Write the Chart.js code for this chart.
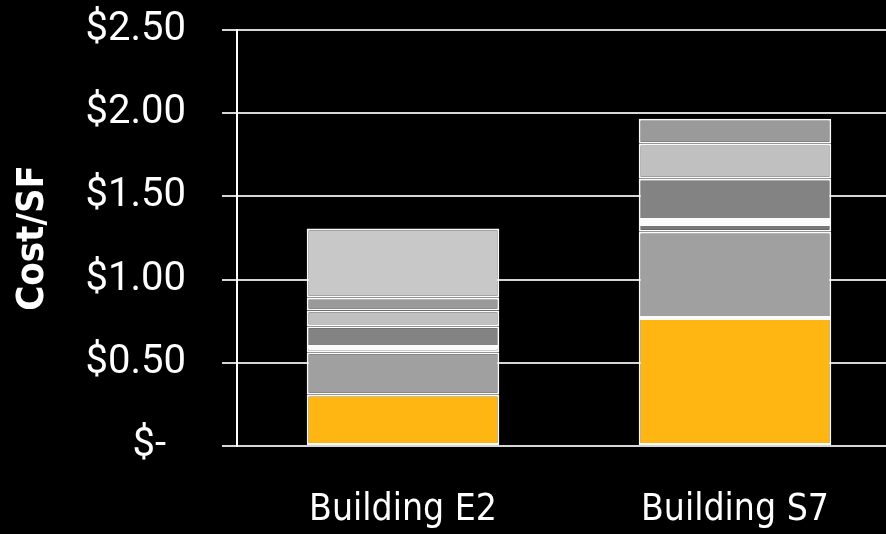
<!DOCTYPE html>
<html>
<head>
<meta charset="utf-8">
<script src="https://cdn.jsdelivr.net/npm/chart.js@4.4.1/dist/chart.umd.min.js"></script>
<style>
  html, body { margin: 0; padding: 0; background: #000; overflow: hidden; }
  #wrap { width: 901px; height: 534px; }
</style>
</head>
<body>
<div id="wrap"><canvas id="costChart"></canvas></div>
<script>
const buildings = ['Building E2', 'Building S7'];
const yTickLabels = ['$-  ', '$0.50', '$1.00', '$1.50', '$2.00', '$2.50'];

// cost components per square foot, bottom to top (null = no such part)
const part1 = [0.308, 0.769];
const part2 = [0.255, 0.519];
const part3 = [null, 0.046];
const part4 = [0.032, 0.024];
const part5 = [0.124, 0.248];
const part6 = [0.096, 0.210];
const part7 = [0.076, 0.150];
const part8 = [0.416, null];

const parts = [part1, part2, part3, part4, part5, part6, part7, part8];
const colors = ['#FFB612', '#A0A0A0', '#777777', '#F8F8F8', '#838383', '#C0C0C0', '#9A9A9A', '#C8C8C8'];

const condensed = '"Liberation Sans Narrow", "DejaVu Sans Condensed", sans-serif';

const ctx = document.getElementById('costChart').getContext('2d');
const chart = new Chart(ctx, {
    type: 'bar',
    data: {
        labels: buildings,
        datasets: parts.map((values, i) => ({
            label: 'Part ' + (i + 1),
            data: values,
            backgroundColor: colors[i],
            borderColor: '#FAFAFA',
            borderWidth: 2,
            borderSkipped: false,
            barPercentage: 0.58,
            categoryPercentage: 1.0
        }))
    },
    options: {
        responsive: true,
        maintainAspectRatio: false,
        animation: false,
        layout: { padding: { top: 30, right: 0, left: 0, bottom: 0 } },
        plugins: {
            legend: { display: false },
            tooltip: { enabled: false }
        },
        scales: {
            x: {
                stacked: true,
                grid: { display: false },
                border: { display: false },
                ticks: {
                    color: '#FFFFFF',
                    padding: 34,
                    font: { family: condensed, size: 37 }
                },
                afterFit: scale => {
                    scale.height = 88;
                    scale.paddingLeft = 0;
                    scale.paddingRight = 0;
                }
            },
            y: {
                stacked: true,
                min: 0,
                max: 2.5,
                ticks: {
                    stepSize: 0.5,
                    color: '#FFFFFF',
                    padding: 36,
                    font: { family: 'Roboto, sans-serif', size: 40 },
                    callback: (value, index) => yTickLabels[index]
                },
                grid: {
                    color: '#D6D6D6',
                    lineWidth: 2,
                    tickLength: 15,
                    drawTicks: true
                },
                border: { display: true, color: '#FFFFFF', width: 2 },
                title: {
                    display: true,
                    text: 'Cost/SF',
                    color: '#FFFFFF',
                    padding: { top: 10, bottom: 0 },
                    font: { family: condensed, size: 38, weight: 'bold' }
                },
                afterFit: scale => {
                    scale.width = 237;
                    scale.paddingTop = 0;
                    scale.paddingBottom = 0;
                }
            }
        }
    }
});
</script>
</body>
</html>
